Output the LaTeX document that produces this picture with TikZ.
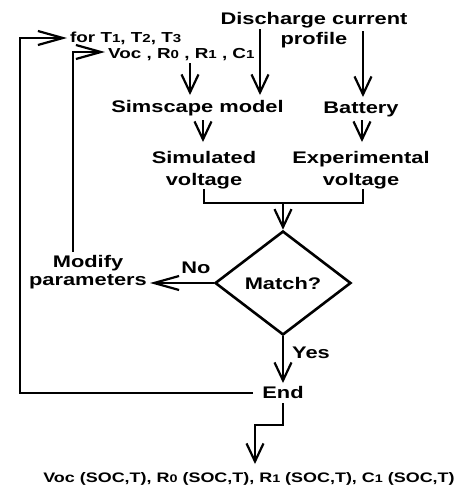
\documentclass[tikz,border=0pt]{standalone}
\usepackage{graphicx}
\usepackage{fontspec}
\setmainfont{Liberation Sans}[FakeStretch=1.3]
\usetikzlibrary{arrows.meta,shapes.geometric}
\newcommand\dg[1]{\scalebox{0.8}{#1}}
\begin{document}
\begin{tikzpicture}[x=1pt,y=-1pt,
  lab/.style={inner sep=0pt,font=\fontsize{16.8}{20}\selectfont\bfseries,align=center},
  labs/.style={inner sep=0pt,font=\fontsize{14.5}{17}\selectfont\bfseries},
  labo/.style={inner sep=0pt,font=\fontsize{13.8}{16}\selectfont\bfseries},
  wire/.style={line width=2.8pt},
  vtip/.style={wire,-{Straight Barb[length=18pt,width=17pt,line width=2.2pt]}},
  htip/.style={wire,-{Straight Barb[length=25pt,width=14pt,line width=2.2pt]}},
  dia/.style={draw,diamond,line width=2.6pt,minimum width=136pt,minimum height=104pt,aspect=1.3,inner sep=0pt,font=\fontsize{16.8}{20}\selectfont\bfseries}
]
\useasboundingbox (0,0) rectangle (470,491);
% text nodes (base anchor = baseline of the last line)
\node[lab,anchor=base] (dis) at (314,44) {Discharge current\\profile};
\node[labs,anchor=base west] (fort) at (70,42) {for T\dg{1}, T\dg{2}, T\dg{3}};
\node[labs,anchor=base west] (par) at (108,58) {Voc , R\dg{0} , R\dg{1} , C\dg{1}};
\node[lab,anchor=base] (sim) at (197.5,112) {Simscape model};
\node[lab,anchor=base] (bat) at (361,113) {Battery};
\node[lab,anchor=base] (simv) at (204,185) {Simulated\\[2pt]voltage};
\node[lab,anchor=base] (expv) at (361,185) {Experimental\\[2pt]voltage};
\node[dia] (match) at (283,283) {Match?};
\node[lab,anchor=base] (mod) at (88,285) {Modify\\[-2pt]parameters};
\node[lab,anchor=base] (no) at (196,273) {No};
\node[lab,anchor=base west] (yes) at (292,358) {Yes};
\node[lab,anchor=base] (endn) at (283,398) {End};
\node[labo,anchor=base] (out) at (249,482) {Voc (SOC,T), R\dg{0} (SOC,T), R\dg{1} (SOC,T), C\dg{1} (SOC,T)};
% coordinates
\coordinate (d1) at (260,29);
\coordinate (d2) at (363,31);
\coordinate (p1) at (190,63);
\coordinate (s1) at (260,95);
\coordinate (s2) at (190,95);
\coordinate (b1) at (363,97);
% connectors
\draw[vtip] (d1) -- (s1);
\draw[vtip] (d2) -- (b1);
\draw[vtip] (p1) -- (s2);
\draw[vtip] (203,120) -- (203,142);
\draw[vtip] (362,120) -- (362,142);
\draw[wire] (204,189) -- (204,203) -- (363,203) -- (363,189);
\draw[vtip] (283,203) -- (match.north);
\draw[htip] (match.west) -- (150,283);
\draw[wire] (73,252) -- (73,52);
\draw[htip] (72,52) -- (105,52);
\draw[vtip] (match.south) -- (283,383);
\draw[wire] (253,393) -- (20,393) -- (20,38);
\draw[htip] (19,38) -- (67,38);
\draw[wire] (283,403) -- (283,425) -- (255,425);
\draw[vtip] (255,424) -- (255,464);
\end{tikzpicture}
\end{document}
